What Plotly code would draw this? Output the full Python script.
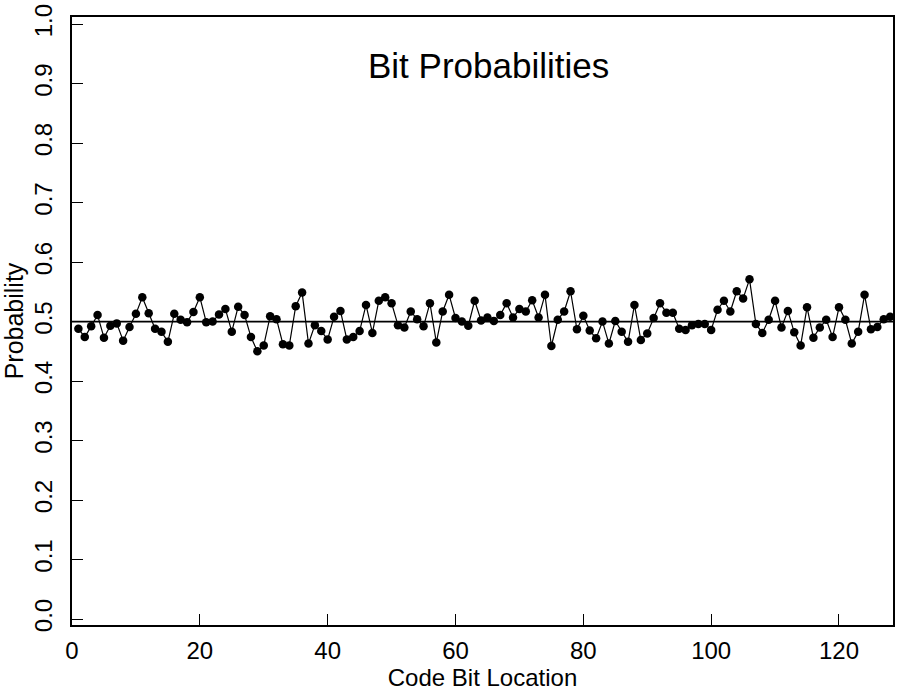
import plotly.graph_objects as go

# bit position along the code word
bit_location = list(range(1, 129))

# probability of each bit being 1
bit_probability = [
    0.488, 0.474, 0.492, 0.511, 0.473, 0.493, 0.497, 0.468, 0.491, 0.513,
    0.541, 0.514, 0.488, 0.483, 0.466, 0.513, 0.503, 0.499, 0.516, 0.541,
    0.499, 0.500, 0.512, 0.521, 0.483, 0.525, 0.511, 0.474, 0.450, 0.460,
    0.509, 0.504, 0.462, 0.460, 0.526, 0.549, 0.463, 0.494, 0.484, 0.470,
    0.508, 0.518, 0.470, 0.474, 0.484, 0.528, 0.481, 0.535, 0.541, 0.531,
    0.494, 0.490, 0.517, 0.504, 0.492, 0.531, 0.465, 0.517, 0.545, 0.506,
    0.500, 0.493, 0.535, 0.502, 0.507, 0.501, 0.511, 0.531, 0.507, 0.521,
    0.517, 0.536, 0.507, 0.545, 0.459, 0.503, 0.517, 0.551, 0.487, 0.510,
    0.485, 0.472, 0.500, 0.463, 0.501, 0.483, 0.466, 0.528, 0.469, 0.480,
    0.506, 0.531, 0.515, 0.515, 0.488, 0.486, 0.494, 0.496, 0.496, 0.486,
    0.520, 0.535, 0.517, 0.551, 0.539, 0.571, 0.496, 0.481, 0.503, 0.535,
    0.490, 0.518, 0.482, 0.460, 0.524, 0.473, 0.490, 0.503, 0.474, 0.524,
    0.503, 0.463, 0.483, 0.545, 0.487, 0.491, 0.504, 0.508,
]

# axis ticks
x_ticks = [0, 20, 40, 60, 80, 100, 120]
y_ticks = [0.0, 0.1, 0.2, 0.3, 0.4, 0.5, 0.6, 0.7, 0.8, 0.9, 1.0]
expected_probability = 0.5

FONT = "Liberation Sans, Arial, Helvetica, sans-serif"

fig = go.Figure()

fig.add_trace(go.Scatter(
    x=bit_location,
    y=bit_probability,
    mode="lines+markers",
    line=dict(color="black", width=1.2),
    marker=dict(color="black", size=8.5),
    cliponaxis=False,
    showlegend=False,
))

# reference line at p = 0.5
fig.add_shape(type="line", xref="paper", yref="y",
              x0=0, x1=1, y0=expected_probability, y1=expected_probability,
              line=dict(color="black", width=1.6))

fig.add_annotation(text="Bit Probabilities", xref="paper", yref="y",
                   x=0.507, y=0.931, xanchor="center", yanchor="middle",
                   showarrow=False, font=dict(family=FONT, size=35, color="black"))

axis_style = dict(
    showline=True, linecolor="black", linewidth=2, mirror=True,
    ticks="inside", ticklen=11, tickwidth=1, tickcolor="black",
    showgrid=False, zeroline=False, automargin=False,
    tickfont=dict(family=FONT, size=24, color="black"),
)

fig.update_xaxes(range=[0, 128.45], tickvals=x_ticks, ticklabelstandoff=3,
                 title=dict(text="Code Bit Location", standoff=6,
                            font=dict(family=FONT, size=24, color="black")),
                 **axis_style)
fig.update_yaxes(range=[-0.01, 1.012], tickvals=y_ticks, tickformat=".1f",
                 tickangle=-90, ticklabelstandoff=8,
                 title=dict(text="Probability", standoff=0,
                            font=dict(family=FONT, size=25, color="black")),
                 **axis_style)

fig.update_layout(
    width=899, height=692,
    margin=dict(l=72, r=6, t=17, b=67),
    plot_bgcolor="white", paper_bgcolor="white",
    font=dict(family=FONT, color="black"),
)

# page body has a default 8px margin; drop it so the figure fills the window
fig.write_html("out.html",
               config={"displayModeBar": False},
               post_script="document.body.style.margin='0';"
                           "document.body.style.overflow='hidden';")
